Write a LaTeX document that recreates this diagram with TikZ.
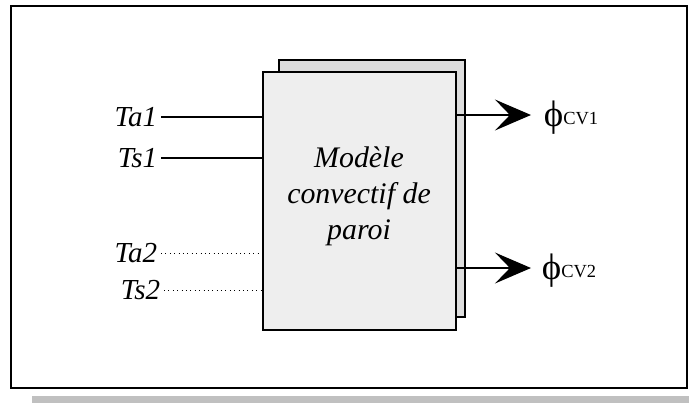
\documentclass[tikz,border=0pt]{standalone}
\usepackage{fontspec}
\setmainfont{Liberation Serif}
\usetikzlibrary{arrows.meta}
\definecolor{boxfront}{HTML}{EEEEEE}
\definecolor{boxback}{HTML}{DDDDDD}
\definecolor{shadowbar}{HTML}{C0C0C0}
\tikzset{
  lbl/.style={font=\fontsize{16.5}{20}\selectfont\itshape, inner sep=2pt},
  flux/.style={font=\fontsize{21}{24}\selectfont, inner sep=2pt},
  bloc/.style={draw, line width=0.85pt, inner sep=0pt},
  entree/.style={line width=0.85pt},
  entreepointee/.style={line width=0.5pt, dotted},
  sortie/.style={line width=1pt, -{Stealth[length=20.5pt, width=17.6pt, inset=8.5pt]}},
}
\newcommand{\sousindice}[1]{\raisebox{1pt}{\fontsize{10.5}{12}\selectfont #1}}
\begin{document}
\begin{tikzpicture}[x=0.02cm, y=-0.02cm]
  \useasboundingbox (0,0) rectangle (689,403);
  % cadre
  \fill[shadowbar] (32,396) rectangle (689,403);
  \draw[line width=1.2pt] (11,6) rectangle (687,388);
  % bloc
  \node[bloc, fill=boxback, minimum width=3.72cm, minimum height=5.14cm] (fond) at (372,188.5) {};
  \node[bloc, fill=boxfront, minimum width=3.86cm, minimum height=5.16cm] (modele) at (359.5,201) {};
  \node[align=center, font=\fontsize{17}{20.4}\selectfont\itshape] (texte) at (359,196)
        {Modèle\\convectif de\\paroi};
  % entrees
  \node[lbl, anchor=east] (ta1) at (161,117) {Ta1};
  \node[lbl, anchor=east] (ts1) at (161,158) {Ts1};
  \node[lbl, anchor=east] (ta2) at (161,253) {Ta2};
  \node[lbl, anchor=east] (ts2) at (164,290) {Ts2};
  \draw[entree] (ta1.east) -- (modele.west |- ta1.east);
  \draw[entree] (ts1.east) -- (modele.west |- ts1.east);
  \draw[entreepointee] (ta2.east) -- (modele.west |- ta2.east);
  \draw[entreepointee] (ts2.east) -- (modele.west |- ts2.east);
  % sorties
  \coordinate (s1) at (531,115);
  \coordinate (s2) at (531,268);
  \draw[sortie] (modele.east |- s1) -- (s1);
  \draw[sortie] (modele.east |- s2) -- (s2);
  \node[flux, anchor=base west] (phi1) at (540,126) {ϕ\sousindice{CV1}};
  \node[flux, anchor=base west] (phi2) at (538,279) {ϕ\sousindice{CV2}};
\end{tikzpicture}
\end{document}
